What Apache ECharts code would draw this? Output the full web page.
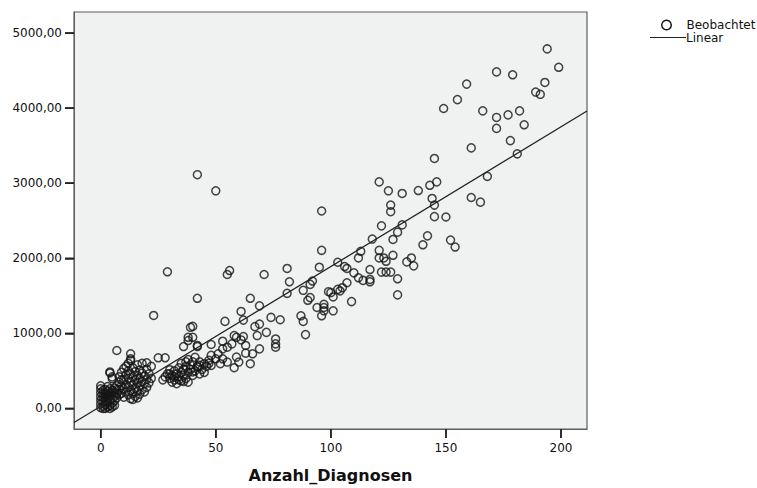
<!DOCTYPE html>
<html>
<head>
<meta charset="utf-8">
<script src="https://cdn.jsdelivr.net/npm/echarts@6/dist/echarts.min.js"></script>
<style>
html,body{margin:0;padding:0;background:#fff;}
#chart{width:757px;height:488px;}
</style>
</head>
<body>
<div id="chart"></div>
<script>
// ---- Data ----
const xTicks = [0, 50, 100, 150, 200];
const yTicks = [0, 1000, 2000, 3000, 4000, 5000];
const xName = 'Anzahl_Diagnosen';
const legendNames = ['Beobachtet', 'Linear'];

// Linear fit
const linearIntercept = 27;
const linearSlope = 18.63;

// Observed points [Anzahl_Diagnosen, value]
const obsHigh = [
  [194,4790],[199,4545],[172,4484],[179,4445],[159,4321],[193,4343],[189,4215],[191,4185],
  [155,4114],[149,3996],[166,3964],[172,3877],[177,3911],[182,3964],[184,3779],[172,3731],
  [178,3568],[181,3392],[161,3471],[168,3092],[145,3330],[161,2810],[165,2748],[150,2550],
  [145,2555],[152,2242],[154,2150],[142,2299],[140,2180],[121,3018],[125,2899],[131,2864],
  [138,2903],[143,2973],[146,3018],[126,2709],[126,2621],[144,2797],[145,2709],[122,2432],
  [131,2445],[129,2348],[127,2251],[118,2256],[121,2106],[127,2040],[123,2004],[124,1960],
  [135,2004],[133,1952],[136,1899],[122,1816],[124,1816],[126,1816],[129,1727],[129,1512]
];
const obsMid = [
  [96,2630],[96,2106],[113,2093],[121,2004],[112,2004],[103,1947],[106,1890],[107,1864],
  [110,1806],[117,1850],[112,1740],[114,1705],[117,1718],[117,1687],[107,1674],[100,1542],
  [103,1586],[104,1565],[101,1485],[109,1423],[97,1387],[97,1344],[97,1300],[101,1300],
  [96,1234],[95,1881],[81,1864],[82,1687],[71,1784],[55,1784],[56,1837],[42,3114],
  [50,2899],[29,1820],[23,1238],[42,1467],[65,1467],[69,1366],[81,1533],[88,1573],
  [91,1652],[92,1697],[90,1440],[91,1476],[94,1344],[99,1555],[105,1608],[61,1291],
  [62,1176],[54,1159],[74,1212],[78,1181],[87,1234],[88,1159],[89,983],[67,1089],
  [69,1123],[72,1013],[76,925],[76,859],[76,815],[68,970]
];
const obsLowMid = [
  [40,1093],[40,947],[42,824],[48,851],[53,895],[58,970],[59,947],[61,912],[62,957],[63,838],
  [55,815],[57,859],[53,793],[66,727],[69,793],[63,736],[59,683],[60,617],[58,542],[65,595],
  [48,706],[50,661],[47,640],[45,595],[42,551],[43,573],[40,485],[53,661],[55,617],[52,595],
  [51,727],[48,573],[7,771],[13,727],[13,661],[25,674],[28,674],[20,608],[39,1080],[38,947],
  [38,904],[36,824],[42,838],[4,485],[5,396],[30,515],[4,472],[5,419]
];
const obsClusterC = [
  [27,380],[28,420],[29,460],[30,400],[31,350],[31,440],[32,500],[32,380],[33,330],[33,460],
  [34,420],[34,540],[35,370],[35,480],[35,600],[36,440],[36,520],[37,400],[37,560],[37,620],
  [38,480],[38,350],[38,650],[39,520],[39,580],[40,440],[40,620],[41,500],[41,680],[42,560],
  [43,460],[43,620],[44,520],[45,480],[46,560],[47,600],[36,360],[34,380],[32,420],[30,460]
];
const obsClusterB = [
  [7,300],[8,250],[8,350],[8,420],[9,200],[9,300],[9,480],[10,150],[10,260],[10,380],
  [10,530],[11,220],[11,320],[11,450],[12,180],[12,280],[12,400],[12,500],[12,600],[13,130],
  [13,240],[13,350],[13,460],[14,200],[14,310],[14,420],[14,540],[15,160],[15,270],[15,380],
  [15,490],[16,230],[16,340],[16,440],[16,580],[17,190],[17,300],[17,400],[17,510],[18,250],
  [18,360],[18,470],[19,220],[19,330],[19,430],[20,280],[20,390],[20,520],[21,340],[21,460],
  [22,400],[22,560],[14,120],[16,140],[11,560],[13,640],[18,600],[9,380]
];
const obsClusterA = [
  [0,10],[0,60],[0,110],[0,160],[0,210],[0,260],[1,30],[1,90],[1,140],[1,190],[1,240],
  [2,0],[2,50],[2,100],[2,150],[2,200],[2,250],[3,20],[3,80],[3,130],[3,180],[3,230],[3,290],
  [4,40],[4,110],[4,160],[4,210],[4,260],[5,70],[5,130],[5,180],[5,240],[6,100],[6,160],
  [6,210],[6,270],[7,140],[7,200],[7,250],[8,180],[1,0],[4,0],[5,20],[6,40],[0,300]
];

const observed = [].concat(obsHigh, obsMid, obsLowMid, obsClusterC, obsClusterB, obsClusterA);

const xMin = -11.6, xMax = 211.3;
const yMin = -275, yMax = 5282;
const linearLine = [xMin, xMax].map(x => [x, linearIntercept + linearSlope * x]);
const tickLen = 9;

const font = 'DejaVu Sans';
const chart = echarts.init(document.getElementById('chart'), null, {renderer: 'svg'});
chart.setOption({
  animation: false,
  grid: {
    left: 74, top: 12, right: 170, bottom: 55.5,
    show: true, backgroundColor: '#f0f1f1', borderColor: '#5e5e5e', borderWidth: 1.2
  },
  graphic: [
    {type: 'circle', shape: {cx: 666.5, cy: 25, r: 4.8},
     style: {fill: 'none', stroke: '#151515', lineWidth: 1.5}},
    {type: 'text', x: 686.5, y: 25,
     style: {text: legendNames[0], fill: '#111', fontSize: 12, fontFamily: font, verticalAlign: 'middle'}},
    {type: 'line', shape: {x1: 650, y1: 37.5, x2: 686, y2: 37.5},
     style: {stroke: '#222', lineWidth: 1.2}},
    {type: 'text', x: 686, y: 38,
     style: {text: legendNames[1], fill: '#111', fontSize: 12, fontFamily: font, verticalAlign: 'middle'}}
  ],
  xAxis: {
    type: 'value', min: xMin, max: xMax,
    name: xName, nameLocation: 'middle', nameGap: 38,
    nameTextStyle: {fontFamily: font, fontSize: 16, fontWeight: 'bold', color: '#111'},
    axisLine: {show: true, onZero: false, lineStyle: {color: '#5e5e5e'}},
    axisTick: {show: true, customValues: xTicks, length: tickLen, lineStyle: {color: '#222', width: 1.5}},
    axisLabel: {customValues: xTicks, margin: 13, fontSize: 12, color: '#111', fontFamily: font},
    splitLine: {show: false}
  },
  yAxis: {
    type: 'value', min: yMin, max: yMax,
    axisLine: {show: true, onZero: false, lineStyle: {color: '#5e5e5e'}},
    axisTick: {show: true, customValues: yTicks, length: tickLen, lineStyle: {color: '#222', width: 1.5}},
    axisLabel: {
      customValues: yTicks, margin: 12, fontSize: 12, color: '#111', fontFamily: font,
      formatter: v => v.toFixed(2).replace('.', ',')
    },
    splitLine: {show: false}
  },
  series: [
    {
      name: 'Beobachtet', type: 'scatter', data: observed,
      symbol: 'circle', symbolSize: 8,
      itemStyle: {color: 'transparent', borderColor: '#151515', borderWidth: 1.5}
    },
    {
      name: 'Linear', type: 'line', data: linearLine,
      symbol: 'none', showSymbol: false,
      lineStyle: {color: '#222', width: 1.3},
      itemStyle: {color: '#222'},
      z: 3
    },
    {
      // x-axis tick marks, placed via the axis scale (fallback)
      type: 'custom', clip: false,
      data: xTicks.map(v => [v, yMin]),
      renderItem: (params, api) => {
        const p = api.coord([api.value(0), api.value(1)]);
        return {type: 'line', shape: {x1: p[0], y1: p[1], x2: p[0], y2: p[1] + tickLen},
                style: {stroke: '#222', lineWidth: 1.5}};
      }
    },
    {
      // y-axis tick marks, placed via the axis scale (fallback)
      type: 'custom', clip: false,
      data: yTicks.map(v => [xMin, v]),
      renderItem: (params, api) => {
        const p = api.coord([api.value(0), api.value(1)]);
        return {type: 'line', shape: {x1: p[0] - tickLen, y1: p[1], x2: p[0], y2: p[1]},
                style: {stroke: '#222', lineWidth: 1.5}};
      }
    }
  ]
});
</script>
</body>
</html>
